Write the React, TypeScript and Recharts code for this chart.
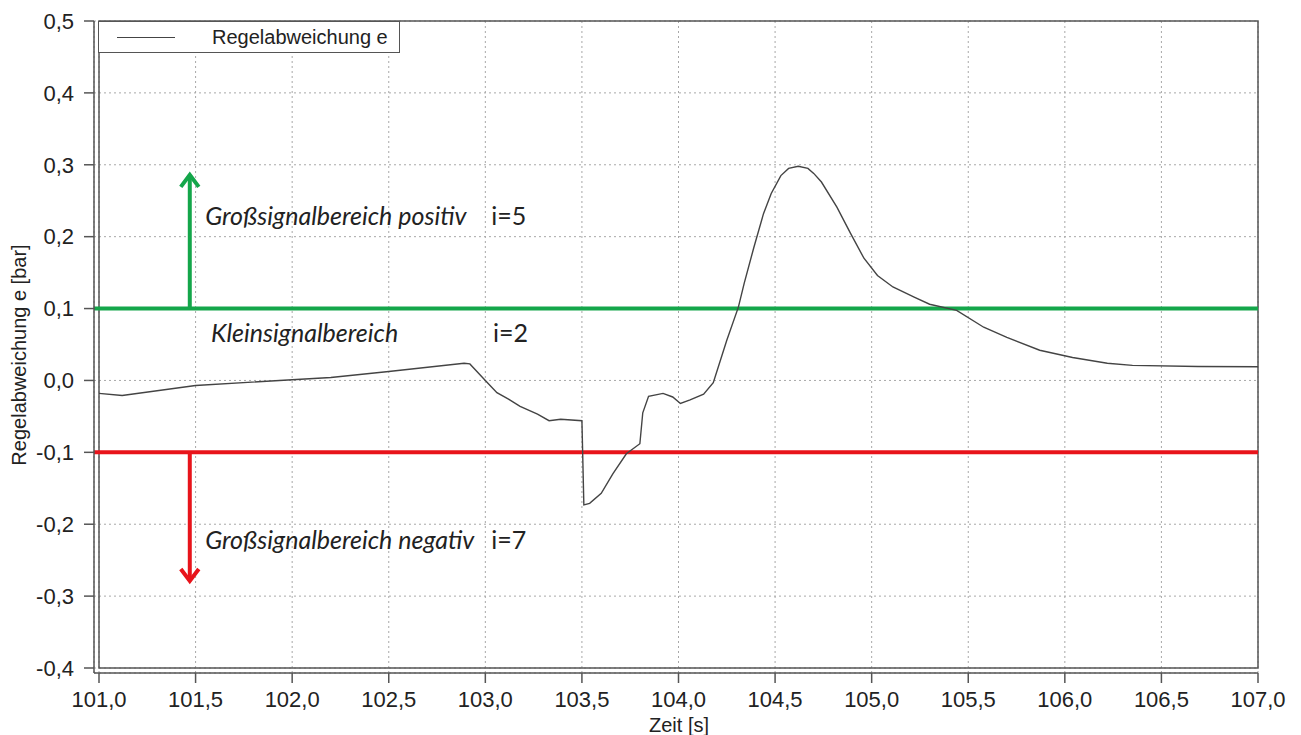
import {
  CartesianGrid,
  Legend,
  Line,
  LineChart,
  ReferenceArea,
  ReferenceDot,
  ReferenceLine,
  XAxis,
  YAxis,
} from 'recharts';

// Zeit [s]
const timeS = [
  101.0, 101.12, 101.5, 102.0, 102.2, 102.5, 102.89, 102.92, 103.0, 103.06, 103.12, 103.18,
  103.27, 103.33, 103.39, 103.5, 103.51, 103.54, 103.6, 103.66, 103.73, 103.8, 103.815, 103.845,
  103.92, 103.97, 104.01, 104.06, 104.13, 104.18, 104.25, 104.31, 104.34, 104.39, 104.44, 104.48,
  104.53, 104.57, 104.62, 104.67, 104.7, 104.74, 104.82, 104.89, 104.96, 105.03, 105.11, 105.22,
  105.3, 105.44, 105.58, 105.7, 105.87, 106.04, 106.22, 106.35, 106.69, 107.0,
];

// Regelabweichung e [bar]
const deviation = [
  -0.018, -0.021, -0.007, 0.001, 0.004, 0.0125, 0.024, 0.023, 0.0, -0.017, -0.026, -0.036,
  -0.047, -0.056, -0.054, -0.056, -0.173, -0.171, -0.157, -0.13, -0.102, -0.088, -0.045, -0.022,
  -0.018, -0.023, -0.032, -0.027, -0.019, -0.003, 0.056, 0.102, 0.135, 0.185, 0.232, 0.26,
  0.285, 0.295, 0.298, 0.295, 0.288, 0.276, 0.241, 0.205, 0.17, 0.146, 0.13, 0.116,
  0.106, 0.0975, 0.074, 0.06, 0.042, 0.032, 0.024, 0.021, 0.0195, 0.019,
];

const xTicks = [101, 101.5, 102, 102.5, 103, 103.5, 104, 104.5, 105, 105.5, 106, 106.5, 107];
const yTicks = [-0.4, -0.3, -0.2, -0.1, 0, 0.1, 0.2, 0.3, 0.4, 0.5];

// Bereichsgrenzen
const upperLimit = 0.1;
const lowerLimit = -0.1;
const arrowTime = 101.47;
const upperArrowTip = 0.286;
const lowerArrowTip = -0.279;

// Beschriftungen (Zeit, Wert, Text)
const regionLabels = [
  { t: 101.55, e: 0.23, text: 'Großsignalbereich positiv', italic: true },
  { t: 103.03, e: 0.23, text: 'i=5', italic: false },
  { t: 101.58, e: 0.067, text: 'Kleinsignalbereich', italic: true },
  { t: 103.04, e: 0.067, text: 'i=2', italic: false },
  { t: 101.55, e: -0.22, text: 'Großsignalbereich negativ', italic: true },
  { t: 103.03, e: -0.22, text: 'i=7', italic: false },
];

const data = timeS.map((t, i) => ({ t, e: deviation[i] }));
const upperArrow = [
  { t: arrowTime, e: upperLimit },
  { t: arrowTime, e: upperArrowTip },
];
const lowerArrow = [
  { t: arrowTime, e: lowerLimit },
  { t: arrowTime, e: lowerArrowTip },
];

const GREEN = '#14a64a';
const RED = '#e8141b';
const FONT = '"Liberation Sans", Arial, sans-serif';
const fmt = (v: number) => v.toFixed(1).replace('.', ',');

function arrowHead(color: string, dir: 1 | -1) {
  return (props: any) => {
    const { cx, cy, index } = props;
    if (index !== 1) return <g key={`a-${index}`} />;
    return (
      <polyline
        key={`a-${index}`}
        points={`${cx - 9},${cy + dir * 12} ${cx},${cy} ${cx + 9},${cy + dir * 12}`}
        fill="none"
        stroke={color}
        strokeWidth={4}
      />
    );
  };
}

function LegendBox({ payload }: any) {
  const items = (payload ?? []).filter((p: any) => p.value === 'Regelabweichung e');
  return (
    <div
      style={{
        width: 300,
        height: 30,
        border: '1.5px solid #555',
        background: '#fff',
        display: 'flex',
        alignItems: 'center',
        fontFamily: FONT,
      }}
    >
      {items.map((p: any) => (
        <div key={p.value} style={{ display: 'flex', alignItems: 'center' }}>
          <span style={{ marginLeft: 18, width: 58, borderTop: '1.5px solid #444', display: 'inline-block' }} />
          <span style={{ marginLeft: 37, fontSize: 20, color: '#222' }}>{p.value}</span>
        </div>
      ))}
    </div>
  );
}

export default function App() {
  return (
    <div style={{ position: 'absolute', left: 0, top: 0, width: 1301, height: 735, background: '#fff' }}>
      <LineChart width={1301} height={735} data={data} margin={{ top: 21, right: 43, bottom: 0, left: 0 }}>
        <CartesianGrid stroke="#a8a8a8" strokeDasharray="2 3" />
        <XAxis
          type="number"
          dataKey="t"
          domain={[101, 107]}
          ticks={xTicks}
          tickFormatter={fmt}
          padding={{ left: 5, right: 0 }}
          height={62}
          stroke="#555"
          strokeWidth={1.5}
          tickSize={10}
          tickMargin={8}
          tick={{ fill: '#222', fontSize: 22, fontFamily: FONT }}
          label={{
            content: ({ viewBox }: any) => (
              <text
                x={viewBox.x + viewBox.width / 2 + 3}
                y={732}
                textAnchor="middle"
                fill="#222"
                fontSize={20}
                fontFamily={FONT}
              >
                Zeit [s]
              </text>
            ),
          }}
        />
        <YAxis
          type="number"
          domain={[-0.4, 0.5]}
          ticks={yTicks}
          tickFormatter={fmt}
          padding={{ top: 0, bottom: 5 }}
          width={94}
          stroke="#555"
          strokeWidth={1.5}
          tickSize={10}
          tickMargin={10}
          tick={{ fill: '#222', fontSize: 22, fontFamily: FONT }}
          label={{
            content: () => (
              <text
                x={19}
                y={355}
                transform="rotate(-90, 19, 355)"
                textAnchor="middle"
                dominantBaseline="central"
                fill="#222"
                fontSize={20}
                fontFamily={FONT}
              >
                Regelabweichung e [bar]
              </text>
            ),
          }}
        />
        <ReferenceArea x1={101} x2={107} y1={-0.4} y2={0.5} fill="none" stroke="#555" strokeWidth={1.5} />
        <ReferenceLine y={upperLimit} stroke={GREEN} strokeWidth={4} />
        <ReferenceLine y={lowerLimit} stroke={RED} strokeWidth={4} />
        <Line
          data={upperArrow}
          dataKey="e"
          stroke={GREEN}
          strokeWidth={4}
          dot={arrowHead(GREEN, 1)}
          activeDot={false}
          legendType="none"
          isAnimationActive={false}
        />
        <Line
          data={lowerArrow}
          dataKey="e"
          stroke={RED}
          strokeWidth={4}
          dot={arrowHead(RED, -1)}
          activeDot={false}
          legendType="none"
          isAnimationActive={false}
        />
        <Line
          type="linear"
          dataKey="e"
          name="Regelabweichung e"
          stroke="#444"
          strokeWidth={1.4}
          dot={false}
          isAnimationActive={false}
        />
        {regionLabels.map((l) => (
          <ReferenceDot
            key={l.text}
            x={l.t}
            y={l.e}
            r={0}
            shape={(p: any) => (
              <text
                x={p.cx}
                y={p.cy}
                dominantBaseline="central"
                fill="#222"
                fontSize={25}
                fontStyle={l.italic ? 'italic' : 'normal'}
                fontFamily="Lato, 'Open Sans', sans-serif"
              >
                {l.text}
              </text>
            )}
          />
        ))}
        <Legend
          layout="vertical"
          align="center"
          verticalAlign="middle"
          content={<LegendBox />}
          wrapperStyle={{ left: 98, top: 21, width: 'auto' }}
        />
      </LineChart>
    </div>
  );
}
